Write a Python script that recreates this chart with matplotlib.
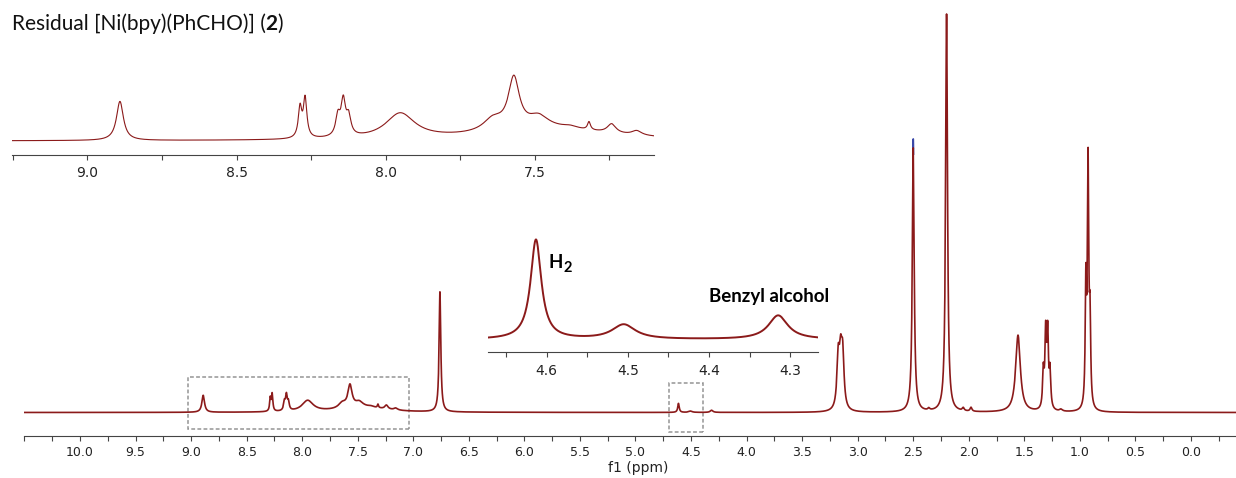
import numpy as np
import matplotlib

matplotlib.use("Agg")
import matplotlib.pyplot as plt  # noqa: E402
from matplotlib.patches import Rectangle  # noqa: E402
from matplotlib.ticker import MultipleLocator  # noqa: E402

# Peak table.
# shift in ppm, height in main-plot pixels above the baseline, FWHM in ppm.
AROM_PPM = [8.891, 8.287, 8.270, 8.160, 8.142, 8.124, 7.951, 7.640,
            7.570, 7.487, 7.380, 7.318, 7.242, 7.158, 7.450]
AROM_HEIGHT = [17.0, 13.0, 17.0, 8.5, 15.0, 8.0, 11.0, 5.3,
               22.0, 5.0, 1.0, 3.5, 4.0, 2.0, 5.0]
AROM_WIDTH = [0.028, 0.014, 0.014, 0.018, 0.018, 0.018, 0.12, 0.08,
              0.045, 0.08, 0.06, 0.012, 0.035, 0.04, 0.50]

MID_PPM = [4.613, 4.505, 4.315]          # H2, ?, benzyl alcohol CH2
MID_HEIGHT = [9.0, 1.32, 2.16]
MID_WIDTH = [0.016, 0.035, 0.029]

ALIPH_PPM = [6.760, 3.175, 3.153, 3.135, 2.500, 2.360, 2.200, 2.050,
             1.980, 1.557, 1.329, 1.308, 1.290, 1.269, 1.170, 0.946,
             0.926, 0.909]
ALIPH_HEIGHT = [120, 50, 45, 50, 264, 2, 398, 3,
                4, 77, 36, 73, 73, 36, 2, 120,
                240, 81]
ALIPH_WIDTH = [0.018, 0.028, 0.028, 0.028, 0.020, 0.02, 0.020, 0.02,
               0.02, 0.050, 0.016, 0.016, 0.016, 0.016, 0.03, 0.014,
               0.014, 0.014]

# second (blue) trace only pokes out above the solvent peak
BLUE_PPM = [2.500]
BLUE_HEIGHT = [273]
BLUE_WIDTH = [0.020]

MAIN_TICKS = [10.0, 9.5, 9.0, 8.5, 8.0, 7.5, 7.0, 6.5, 6.0, 5.5, 5.0,
              4.5, 4.0, 3.5, 3.0, 2.5, 2.0, 1.5, 1.0, 0.5, 0.0]
AROM_TICKS = [9.0, 8.5, 8.0, 7.5]
MID_TICKS = [4.6, 4.5, 4.4, 4.3]

RED = "#8b1a1a"
BLUE = "#3a48a8"
W, H = 1236, 478


def lorentz(x, ppm, height, width):
    y = np.zeros_like(x)
    for c, h, w in zip(ppm, height, width):
        y += h / (1.0 + ((x - c) / (w / 2.0)) ** 2)
    return y


def px_axes(fig, left, top, right, bottom):
    return fig.add_axes([left / W, 1 - bottom / H,
                         (right - left) / W, (bottom - top) / H])


def style_axis(ax, labelsize, pad):
    for s in ("left", "right", "top"):
        ax.spines[s].set_visible(False)
    ax.spines["bottom"].set_color("#444444")
    ax.spines["bottom"].set_linewidth(0.8)
    ax.set_yticks([])
    ax.patch.set_alpha(0)
    ax.tick_params(axis="x", which="both", direction="out", length=3.6,
                   width=0.8, color="#444444", labelsize=labelsize,
                   pad=pad, labelcolor="#222222")


x = np.linspace(-0.6, 10.7, 60000)
spec = (lorentz(x, AROM_PPM, AROM_HEIGHT, AROM_WIDTH)
        + lorentz(x, MID_PPM, MID_HEIGHT, MID_WIDTH)
        + lorentz(x, ALIPH_PPM, ALIPH_HEIGHT, ALIPH_WIDTH))
# only the very tip of the blue trace shows above the red one
near = np.abs(x - BLUE_PPM[0]) < 0.0025
blue = spec[near] + lorentz(x[near], BLUE_PPM, BLUE_HEIGHT, BLUE_WIDTH) \
    - lorentz(x[near], BLUE_PPM, [264], BLUE_WIDTH)

plt.rcParams["font.family"] = ["DejaVu Sans"]
fig = plt.figure(figsize=(W / 100, H / 100), dpi=100)

# main spectrum
ax = px_axes(fig, 24, 8, 1236, 436)
ax.plot(x[near], blue, color=BLUE, lw=1.2)
ax.plot(x, spec, color=RED, lw=1.2)
ax.set_xlim(10.504, -0.405)
ax.set_ylim(412.5 - 436, 412.5 - 8)
ax.set_xticks(MAIN_TICKS)
ax.set_xticklabels([f"{t:.1f}" for t in MAIN_TICKS])
ax.xaxis.set_minor_locator(MultipleLocator(0.25))
style_axis(ax, 9, 3.5)
ax.set_xlabel("f1 (ppm)", fontsize=10, color="#222222")
ax.xaxis.label.set_va("center")
ax.xaxis.set_label_coords((638 - 24) / (1236 - 24), (436 - 468) / 428)

box_kw = dict(fill=False, ec="#959595", lw=1.1, ls=(0, (2.5, 1.5)))
ax.add_patch(Rectangle((7.039, -16.5), 9.028 - 7.039, 52.0, **box_kw))
ax.add_patch(Rectangle((4.392, -19.2), 4.699 - 4.392, 48.4, **box_kw))

# aromatic inset
ax1 = px_axes(fig, 12, 40, 654, 155)
ax1.plot(x, spec, color=RED, lw=0.8)
ax1.set_xlim(9.253, 7.10)
ax1.set_ylim(-(155 - 141) / 2.3, (141 - 40) / 2.3)
ax1.set_xticks(AROM_TICKS)
ax1.set_xticklabels([f"{t:.1f}" for t in AROM_TICKS])
ax1.xaxis.set_minor_locator(MultipleLocator(0.25))
style_axis(ax1, 10, 4)

# H2 / benzyl alcohol inset
ax2 = px_axes(fig, 488, 228, 818, 352)
ax2.plot(x, spec, color=RED, lw=1.4)
ax2.set_xlim(4.672, 4.266)
ax2.set_ylim(-(352.3 - 340.7) / 11.1, (340.7 - 228) / 11.1)
ax2.set_xticks(MID_TICKS)
ax2.set_xticklabels([f"{t:.1f}" for t in MID_TICKS])
ax2.xaxis.set_minor_locator(MultipleLocator(0.05))
style_axis(ax2, 10, 5)

lab = dict(family="Lato", fontweight="bold", color="black")
h = ax2.text(4.597, (340.7 - 268.3) / 11.1, "H", fontsize=13.5,
             va="baseline", **lab)
ax2.annotate("2", xy=(1, 0), xycoords=h, xytext=(0.3, -0.3),
             textcoords="offset points", fontsize=10.5, va="baseline", **lab)
ax2.text(4.40, (340.7 - 301.7) / 11.1, "Benzyl alcohol", fontsize=13.5,
         va="baseline", **lab)

# title with bold compound number
tkw = dict(family="Lato", fontsize=15, color="#111111")
t1 = fig.text(11.7 / W, 1 - 29.5 / H, "Residual [Ni(bpy)(PhCHO)] (",
              va="baseline", **tkw)
t2 = ax.annotate("2", xy=(1, 0), xycoords=t1, va="bottom",
                 fontweight="bold", **tkw)
ax.annotate(")", xy=(1, 0), xycoords=t2, va="bottom", **tkw)

fig.savefig("out.png", dpi=100)
plt.close(fig)
